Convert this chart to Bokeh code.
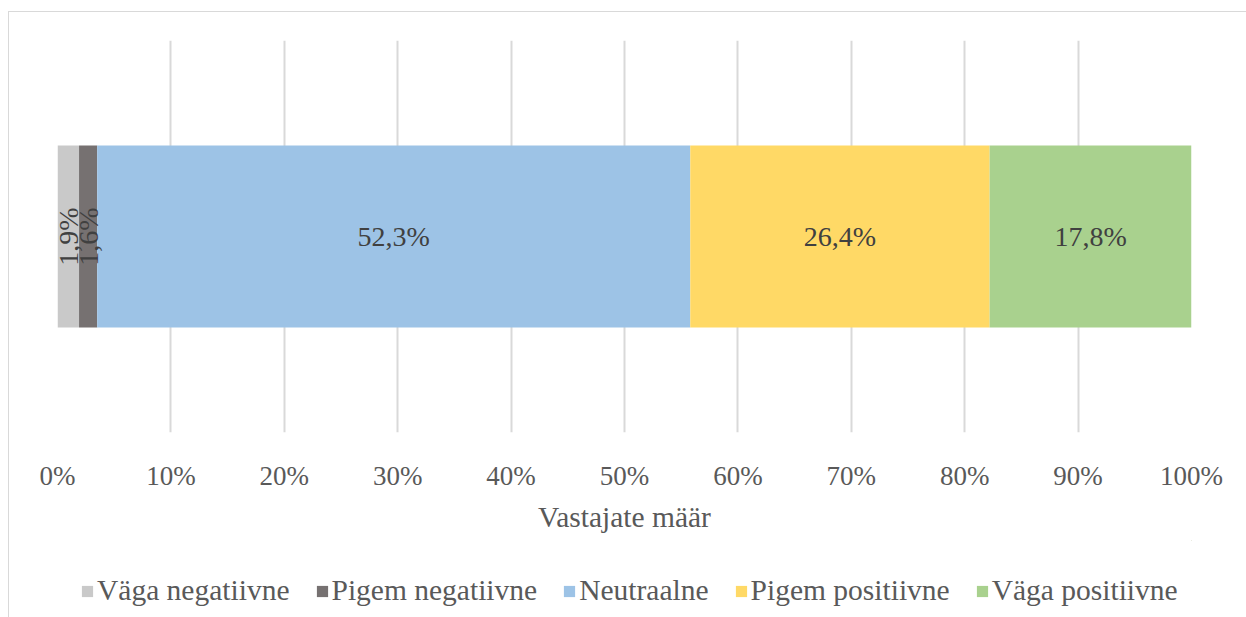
import numpy as np
from bokeh.plotting import figure
from bokeh.layouts import column
from bokeh.models import ColumnDataSource, Range1d, FixedTicker, Legend, LegendItem
from bokeh.core.properties import value
from bokeh.embed import file_html
from bokeh.resources import INLINE

categories = ["Väga negatiivne", "Pigem negatiivne", "Neutraalne", "Pigem positiivne", "Väga positiivne"]
shares = [1.9, 1.6, 52.3, 26.4, 17.8]
colors = ["#C9C9C9", "#767171", "#9DC3E6", "#FFD966", "#A9D18E"]
tick_values = [0, 10, 20, 30, 40, 50, 60, 70, 80, 90, 100]
tick_labels = ["0%", "10%", "20%", "30%", "40%", "50%", "60%", "70%", "80%", "90%", "100%"]
x_title = "Vastajate määr"

FONT = "Liberation Serif"
TXT = "#595959"

p = figure(width=1237, height=528, output_backend="svg", toolbar_location=None,
           x_range=Range1d(0, 100), y_range=Range1d(0, 1),
           y_axis_location=None, x_axis_location="below",
           min_border_left=48, min_border_right=55, min_border_top=28, min_border_bottom=108)
p.outline_line_color = None
p.background_fill_color = "white"
p.border_fill_color = "white"

lefts = np.concatenate([[0], np.cumsum(shares)[:-1]])
rights = lefts + np.array(shares)

for i, c in enumerate(categories):
    p.hbar(y=0.5, left=lefts[i], right=rights[i], height=0.464, fill_color=colors[i], line_color=None)

# data labels
small = [i for i, v in enumerate(shares) if v < 5]
big = [i for i, v in enumerate(shares) if v >= 5]
for idx, ang in ((small, np.pi / 2), (big, 0)):
    s = ColumnDataSource(dict(x=[(lefts[i] + rights[i]) / 2 for i in idx], y=[0.5] * len(idx),
                              t=[f"{shares[i]:.1f}".replace(".", ",") + "%" for i in idx]))
    p.text(x="x", y="y", text="t", source=s, angle=ang, text_align="center", text_baseline="middle",
           text_font=value(FONT), text_font_size="28px", text_color="#404040")

p.xgrid.grid_line_color = "#D9D9D9"
p.xgrid.grid_line_width = 2
p.ygrid.grid_line_color = None

ax = p.xaxis[0]
ax.ticker = FixedTicker(ticks=tick_values)
ax.major_label_overrides = {v: l for v, l in zip(tick_values, tick_labels)}
ax.axis_line_color = None
ax.major_tick_line_color = None
ax.minor_tick_line_color = None
ax.major_label_text_font = FONT
ax.major_label_text_font_size = "27px"
ax.major_label_text_color = TXT
ax.major_label_standoff = 22
ax.axis_label = x_title
ax.axis_label_text_font = FONT
ax.axis_label_text_font_size = "29.5px"
ax.axis_label_text_font_style = "normal"
ax.axis_label_text_color = TXT
ax.axis_label_standoff = 7

# legend figure (its frame is aligned with the main frame by the column layout)
lf = figure(width=1237, height=77, output_backend="svg", toolbar_location=None,
            x_range=Range1d(0, 1), y_range=Range1d(0, 1),
            x_axis_location=None, y_axis_location=None,
            min_border=0, min_border_left=0, min_border_right=0, min_border_top=0, min_border_bottom=0)
lf.outline_line_color = None
lf.xgrid.grid_line_color = None
lf.ygrid.grid_line_color = None
lf.border_fill_color = "white"
lrs = [lf.hbar(y=[50], left=[50], right=[51], height=0.5, fill_color=c, line_color=None) for c in colors]
legend = Legend(items=[LegendItem(label=c, renderers=[r]) for c, r in zip(categories, lrs)],
                orientation="horizontal", location=(23, 10))
legend.label_text_font = FONT
legend.label_text_font_size = "29.5px"
legend.label_text_color = TXT
legend.glyph_width = 14
legend.glyph_height = 14
legend.label_standoff = 3
legend.spacing = 25
legend.padding = 0
legend.margin = 0
legend.border_line_color = None
legend.background_fill_alpha = 0
lf.add_layout(legend, "center")

layout = column(p, lf, spacing=0, margin=(11, 0, 0, 8),
                styles={"border-top": "1px solid #D9D9D9", "border-left": "1px solid #D9D9D9"})

open("out.html", "w").write(file_html(layout, INLINE))
